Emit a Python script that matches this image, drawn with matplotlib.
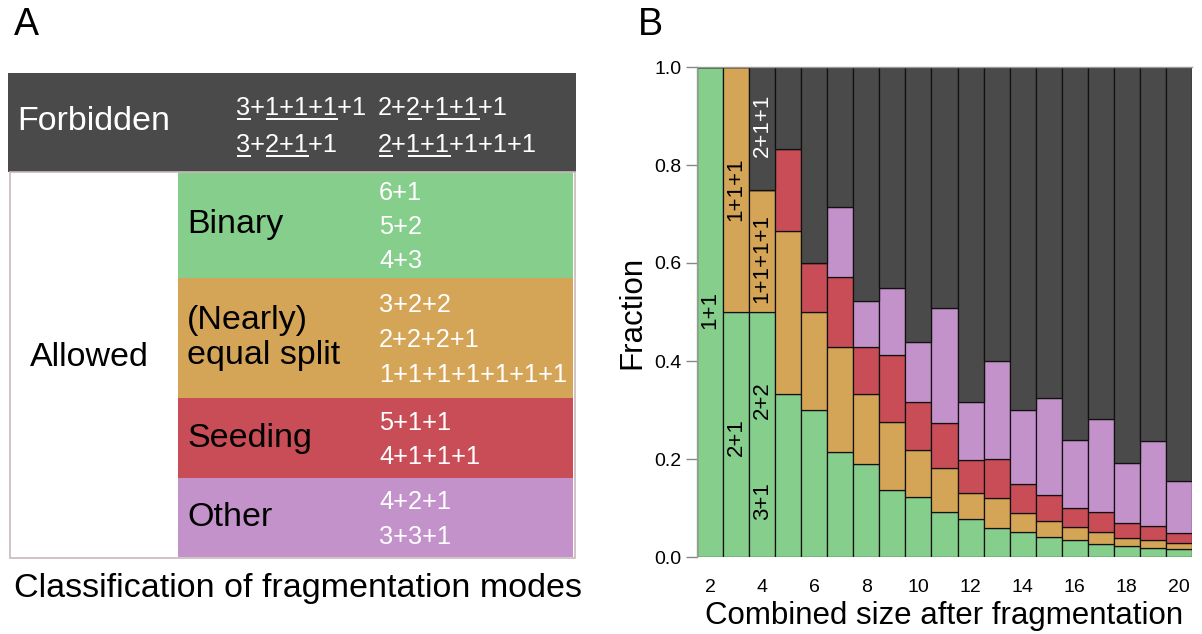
import matplotlib
matplotlib.use("Agg")
import matplotlib.pyplot as plt
import numpy as np
from matplotlib.font_manager import FontProperties
from matplotlib.patches import Rectangle

plt.rcParams["font.family"] = ["Liberation Sans", "DejaVu Sans"]

# ---- panel B: fraction of each fragmentation class per combined size ----
sizes = list(range(2, 21))
frac_binary = [1.0, 0.5, 0.5, 0.333, 0.3, 0.214, 0.190, 0.137, 0.122, 0.091,
               0.078, 0.059, 0.052, 0.040, 0.034, 0.027, 0.022, 0.018, 0.016]
frac_equal = [0.0, 0.5, 0.25, 0.333, 0.2, 0.214, 0.143, 0.138, 0.096, 0.091,
              0.053, 0.061, 0.037, 0.034, 0.027, 0.024, 0.017, 0.017, 0.012]
frac_seeding = [0.0, 0.0, 0.0, 0.167, 0.1, 0.143, 0.095, 0.138, 0.098, 0.091,
                0.067, 0.081, 0.060, 0.052, 0.040, 0.041, 0.030, 0.029, 0.021]
frac_other = [0.0, 0.0, 0.0, 0.0, 0.0, 0.143, 0.095, 0.137, 0.122, 0.235,
              0.118, 0.199, 0.150, 0.199, 0.138, 0.189, 0.123, 0.173, 0.107]
# labels written inside the first bars: (size, fraction height, text, colour)
bar_labels = [
    (2, 0.505, "1+1", "black"),
    (3, 0.245, "2+1", "black"),
    (3, 0.75, "1+1+1", "black"),
    (4, 0.115, "3+1", "black"),
    (4, 0.32, "2+2", "black"),
    (4, 0.61, "1+1+1+1", "black"),
    (4, 0.88, "2+1+1", "white"),
]

# ---- panel A: classification table ----
categories = ["Binary", "(Nearly)\nequal split", "Seeding", "Other"]
category_modes = [
    ["6+1", "5+2", "4+3"],
    ["3+2+2", "2+2+2+1", "1+1+1+1+1+1+1"],
    ["5+1+1", "4+1+1+1"],
    ["4+2+1", "3+3+1"],
]
# parts between underscores are underlined
forbidden_modes = [
    ["_3_+_1+1+1_+1", "_3_+_2+1_+1"],
    ["2+_2_+_1+1_+1", "_2_+_1+1_+1+1+1"],
]

c_green = "#86ce8c"
c_orange = "#d5a557"
c_red = "#c84d57"
c_purple = "#c492ca"
c_dark = "#4a4a4a"
cat_colors = [c_green, c_orange, c_red, c_purple]

W, H = 1202, 634
fig = plt.figure(figsize=(W / 100, H / 100), dpi=100)
renderer = fig.canvas.get_renderer()

# pixel-coordinate layer for panel A and the panel letters
ax_a = fig.add_axes([0, 0, 1, 1])
ax_a.set_xlim(0, W)
ax_a.set_ylim(H, 0)
ax_a.axis("off")

big = 24.5
mode_size = 18.3

ax_a.text(14, 25, "A", fontsize=27, va="center", ha="left")
ax_a.text(638, 25, "B", fontsize=27, va="center", ha="left")

# forbidden header
ax_a.add_patch(Rectangle((8, 73), 568, 99, facecolor=c_dark, edgecolor="none"))
ax_a.text(17, 121, "Forbidden", fontsize=big, color="white", va="center")


def text_width(s, size):
    if not s:
        return 0.0
    prop = FontProperties(family=["Liberation Sans", "DejaVu Sans"], size=size)
    w, _, _ = renderer.get_text_width_height_descent(s, prop, ismath=False)
    return w


def underlined(x, y, marked, size, color):
    parts = marked.split("_")
    ax_a.text(x, y, "".join(parts), fontsize=size, color=color,
              ha="left", va="baseline")
    done = ""
    for i, part in enumerate(parts):
        if i % 2 == 1 and part:
            x0 = x + text_width(done, size) + 1
            x1 = x + text_width(done + part, size) + 1
            ax_a.plot([x0, x1], [y + 3.5, y + 3.5], color=color, lw=1.4,
                      solid_capstyle="butt")
        done += part


col_x = [236, 378]
row_y = [115, 152]
for ci, col in enumerate(forbidden_modes):
    for ri, m in enumerate(col):
        underlined(col_x[ci], row_y[ri], m, mode_size, "white")

# allowed rows
row_tops = [172, 278, 398, 478, 557]
for i, (name, modes) in enumerate(zip(categories, category_modes)):
    top, bot = row_tops[i], row_tops[i + 1]
    ax_a.add_patch(Rectangle((178, top), 395, bot - top,
                             facecolor=cat_colors[i], edgecolor="none"))
    mid = (top + bot) / 2
    ax_a.text(187, mid, name, fontsize=big, va="center", ha="left",
              linespacing=1.15)
    n = len(modes)
    for j, m in enumerate(modes):
        ax_a.text(379, mid + (j - (n - 1) / 2) * 34.5 + 9, m,
                  fontsize=mode_size, color="white", ha="left", va="baseline")

ax_a.add_patch(Rectangle((10, 172), 564.5, 385.5, facecolor="none",
                         edgecolor="#c9b9b9", lw=1.2))
ax_a.text(89, 357, "Allowed", fontsize=big, va="center", ha="center")
ax_a.text(298, 589, "Classification of fragmentation modes", fontsize=big,
          va="center", ha="center")

# ---- panel B ----
ax = fig.add_axes([697 / W, 77 / H, 495 / W, 490 / H])
frac_forbidden = 1 - (np.array(frac_binary) + np.array(frac_equal)
                      + np.array(frac_seeding) + np.array(frac_other))
stack = [frac_binary, frac_equal, frac_seeding, frac_other, frac_forbidden]
bottom = np.zeros(len(sizes))
for vals, col in zip(stack, cat_colors + [c_dark]):
    vals = np.asarray(vals, dtype=float)
    ax.bar(sizes, vals, width=1.0, bottom=bottom, color=col,
           edgecolor="#111111", linewidth=0.9)
    bottom += vals

for s, yv, txt, col in bar_labels:
    ax.text(s, yv, txt, rotation=90, fontsize=16, color=col,
            ha="center", va="center")

ax.set_xlim(1.5, 20.5)
ax.set_ylim(0, 1)
ax.set_xticks(range(2, 21, 2))
ax.set_yticks(np.arange(0, 1.01, 0.2))
ax.set_yticklabels([f"{v:.1f}" for v in np.arange(0, 1.01, 0.2)])
ax.tick_params(axis="x", length=0, pad=16, labelsize=14)
ax.tick_params(axis="y", length=8, width=1, color="#888888", pad=3,
               labelsize=14)
for side in ["right", "bottom"]:
    ax.spines[side].set_visible(False)
for side in ["left", "top"]:
    ax.spines[side].set_color("#999999")
    ax.spines[side].set_linewidth(1)
ax.set_ylabel("Fraction", fontsize=22.5)
ax.yaxis.set_label_coords(-0.1, 0.5)
ax.set_xlabel("Combined size after fragmentation", fontsize=22.5)
ax.xaxis.set_label_coords(0.5, -0.09)

fig.savefig("out.png", dpi=100)
